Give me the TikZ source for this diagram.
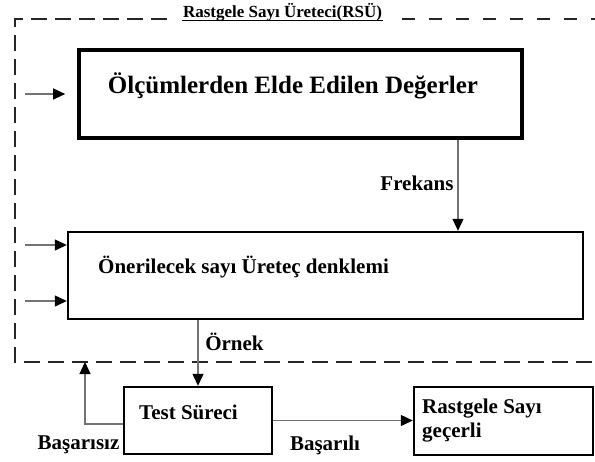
\documentclass[tikz,border=0pt]{standalone}
\usepackage{fontspec}
\setmainfont{Liberation Serif}
\usetikzlibrary{arrows.meta}
\begin{document}
\begin{tikzpicture}[x=1pt,y=-1pt,
  box/.style={draw=black,line width=2.4pt,inner sep=0pt},
  thickbox/.style={draw=black,line width=3.6pt,inner sep=0pt},
  conn/.style={draw=black!55,line width=1.2pt,-{Triangle[length=12pt,width=11pt,color=black]}},
  frame/.style={draw=black!85,line width=2.4pt,dash pattern=on 16pt off 8pt},
  framer/.style={draw=black!85,line width=2.4pt,dash pattern=on 13pt off 14pt},
  lbl/.style={font=\bfseries\fontsize{21}{24}\selectfont,inner sep=0pt},
  big/.style={font=\bfseries\fontsize{25}{28}\selectfont,inner sep=0pt},
  ttl/.style={font=\bfseries\fontsize{17}{19}\selectfont,inner sep=0pt}
]
\useasboundingbox (0,0) rectangle (595,461);
% dashed frame
\coordinate (fa) at (15,19);
\coordinate (fb) at (167,19);
\coordinate (fc) at (402,19);
\coordinate (fd) at (600,19);
\coordinate (fe) at (15,362);
\coordinate (ff) at (600,362);
\draw[frame] (fb) -- (fa) -- (fe) -- (ff);
\draw[framer] (fc) -- (fd);
\node[ttl,anchor=base] (title) at (282.5,17) {Rastgele Sayı Üreteci(RSÜ)};
\coordinate (ul1) at (182,20.5);
\coordinate (ul2) at (383,20.5);
\draw[line width=0.9pt] (ul1) -- (ul2);

% boxes
\node[thickbox,minimum width=443pt,minimum height=88pt] (b1) at (300.5,94) {};
\node[big] (t1) at (293,86) {Ölçümlerden Elde Edilen Değerler};
\node[box,minimum width=515pt,minimum height=87pt] (b2) at (325.5,275.5) {};
\node[lbl,anchor=west] (t2) at (98,267) {Önerilecek sayı Üreteç denklemi};
\node[box,minimum width=148pt,minimum height=67pt] (ts) at (198,420.5) {};
\node[lbl] (t3) at (188.5,412) {Test Süreci};
\node[box,minimum width=179pt,minimum height=68pt] (rs) at (503.5,421) {};
\node[lbl,anchor=west,align=left] (t4) at (422,420.5) {Rastgele Sayı\\[-0.5pt]geçerli};

% inputs
\coordinate (s1) at (25,94);
\coordinate (s2) at (25,245);
\coordinate (s3) at (25,301);
\draw[conn,shorten >=12pt] (s1) -- (b1.west);
\draw[conn] (s2) -- (s2 -| b2.west);
\draw[conn] (s3) -- (s3 -| b2.west);

% Frekans
\coordinate (fx) at (458,0);
\draw[conn] (b1.south -| fx) -- (b2.north -| fx);
\node[lbl] (lf) at (417,183) {Frekans};

% Örnek
\draw[conn] (b2.south -| ts.north) -- (ts.north);
\node[lbl] (lo) at (234.5,342) {Örnek};

% Başarısız
\coordinate (fbk) at (85,362);
\draw[conn] ([yshift=-3.5pt]ts.west) -| (fbk);
\node[lbl] (lbs) at (78.5,445) {Başarısız};

% Başarılı
\draw[conn] (ts.east) -- (ts.east -| rs.west);
\node[lbl] (lbl2) at (325,445) {Başarılı};
\end{tikzpicture}
\end{document}
